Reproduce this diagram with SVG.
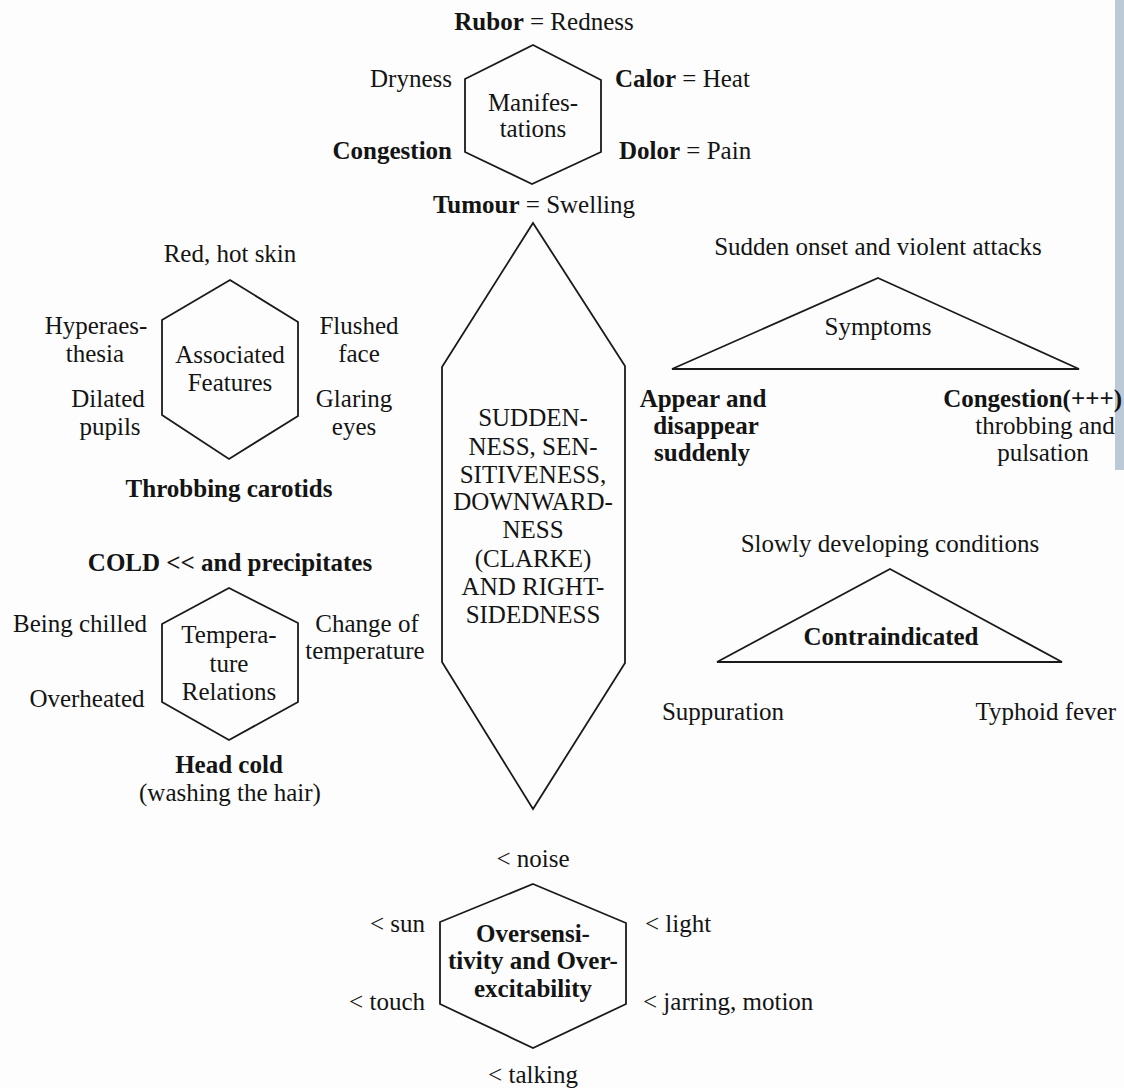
<svg xmlns="http://www.w3.org/2000/svg" width="1124" height="1088" viewBox="0 0 1124 1088">
<style>
  text { font-family: "Liberation Serif", "Times New Roman", serif; font-size: 25px; fill: #141414; }
  .c { text-anchor: middle; }
  .e { text-anchor: end; }
  .b { font-weight: bold; }
  .shape { fill: none; stroke: #1a1a1a; stroke-width: 1.8; stroke-linejoin: miter; }
</style>
<rect x="0" y="0" width="1124" height="1088" fill="#fdfdfd"/>
<rect x="1115" y="0" width="9" height="470" fill="#9fb3c8" opacity="0.7"/>

<g id="connectors"></g>

<g id="manifestations">
  <polygon class="shape" points="533,45 601,80 601,152 532,184 465,152 465,79"/>
  <text class="c" x="533" y="111">Manifes-</text>
  <text class="c" x="533" y="137">tations</text>
  <text class="c" x="544" y="30"><tspan class="b">Rubor</tspan> = Redness</text>
  <text class="c" x="411" y="87">Dryness</text>
  <text x="615" y="87"><tspan class="b">Calor</tspan> = Heat</text>
  <text class="e b" x="452" y="159">Congestion</text>
  <text x="619" y="159"><tspan class="b">Dolor</tspan> = Pain</text>
  <text class="c" x="534" y="213"><tspan class="b">Tumour</tspan> = Swelling</text>
</g>

<g id="associated-features">
  <polygon class="shape" points="230,280 298,322 298,416 229,459 162,415 162,320"/>
  <text class="c" x="230" y="363">Associated</text>
  <text class="c" x="230" y="391">Features</text>
  <text class="c" x="230" y="262">Red, hot skin</text>
  <text class="c" x="96" y="334">Hyperaes-</text>
  <text class="c" x="95" y="362">thesia</text>
  <text class="c" x="108" y="407">Dilated</text>
  <text class="c" x="110" y="435">pupils</text>
  <text class="c" x="359" y="334">Flushed</text>
  <text class="c" x="359" y="362">face</text>
  <text class="c" x="354" y="407">Glaring</text>
  <text class="c" x="354" y="435">eyes</text>
  <text class="c b" x="229" y="497">Throbbing carotids</text>
</g>

<g id="temperature-relations">
  <polygon class="shape" points="229,588 298,623 298,702 229,740 162,702 162,624"/>
  <text class="c" x="229" y="643">Tempera-</text>
  <text class="c" x="229" y="672">ture</text>
  <text class="c" x="229" y="700">Relations</text>
  <text class="c b" x="230" y="571">COLD &lt;&lt; and precipitates</text>
  <text class="c" x="80" y="632">Being chilled</text>
  <text class="c" x="87" y="707">Overheated</text>
  <text class="c" x="367" y="632">Change of</text>
  <text class="c" x="365" y="659">temperature</text>
  <text class="c b" x="229" y="773">Head cold</text>
  <text class="c" x="230" y="801">(washing the hair)</text>
</g>

<g id="central">
  <polygon class="shape" points="533,223 625,366 625,663 533,809 442,662 442,367"/>
  <text class="c" x="533" y="426">SUDDEN-</text>
  <text class="c" x="533" y="455">NESS, SEN-</text>
  <text class="c" x="533" y="483">SITIVENESS,</text>
  <text class="c" x="533" y="510">DOWNWARD-</text>
  <text class="c" x="533" y="538">NESS</text>
  <text class="c" x="533" y="567">(CLARKE)</text>
  <text class="c" x="533" y="595">AND RIGHT-</text>
  <text class="c" x="533" y="623">SIDEDNESS</text>
</g>

<g id="symptoms">
  <polygon class="shape" points="878,278 1079,369 672,369"/>
  <text class="c" x="878" y="335">Symptoms</text>
  <text class="c" x="878" y="255">Sudden onset and violent attacks</text>
  <text class="c b" x="703" y="407">Appear and</text>
  <text class="c b" x="706" y="434">disappear</text>
  <text class="c b" x="702" y="461">suddenly</text>
  <text class="e b" x="1122" y="407">Congestion(+++)</text>
  <text class="c" x="1045" y="434">throbbing and</text>
  <text class="c" x="1043" y="461">pulsation</text>
</g>

<g id="contraindicated">
  <polygon class="shape" points="890,569 1062,662 717,662"/>
  <text class="c b" x="891" y="645">Contraindicated</text>
  <text class="c" x="890" y="552">Slowly developing conditions</text>
  <text class="c" x="723" y="720">Suppuration</text>
  <text class="e" x="1116" y="720">Typhoid fever</text>
</g>

<g id="oversensitivity">
  <polygon class="shape" points="533,884 626,923 626,1004 533,1048 440,1004 440,922"/>
  <text class="c b" x="533" y="942">Oversensi-</text>
  <text class="c b" x="533" y="969">tivity and Over-</text>
  <text class="c b" x="533" y="997">excitability</text>
  <text class="c" x="533" y="867">&lt; noise</text>
  <text class="e" x="425" y="932">&lt; sun</text>
  <text x="645" y="932">&lt; light</text>
  <text class="e" x="425" y="1010">&lt; touch</text>
  <text x="643" y="1010">&lt; jarring, motion</text>
  <text class="c" x="533" y="1083">&lt; talking</text>
</g>
</svg>
